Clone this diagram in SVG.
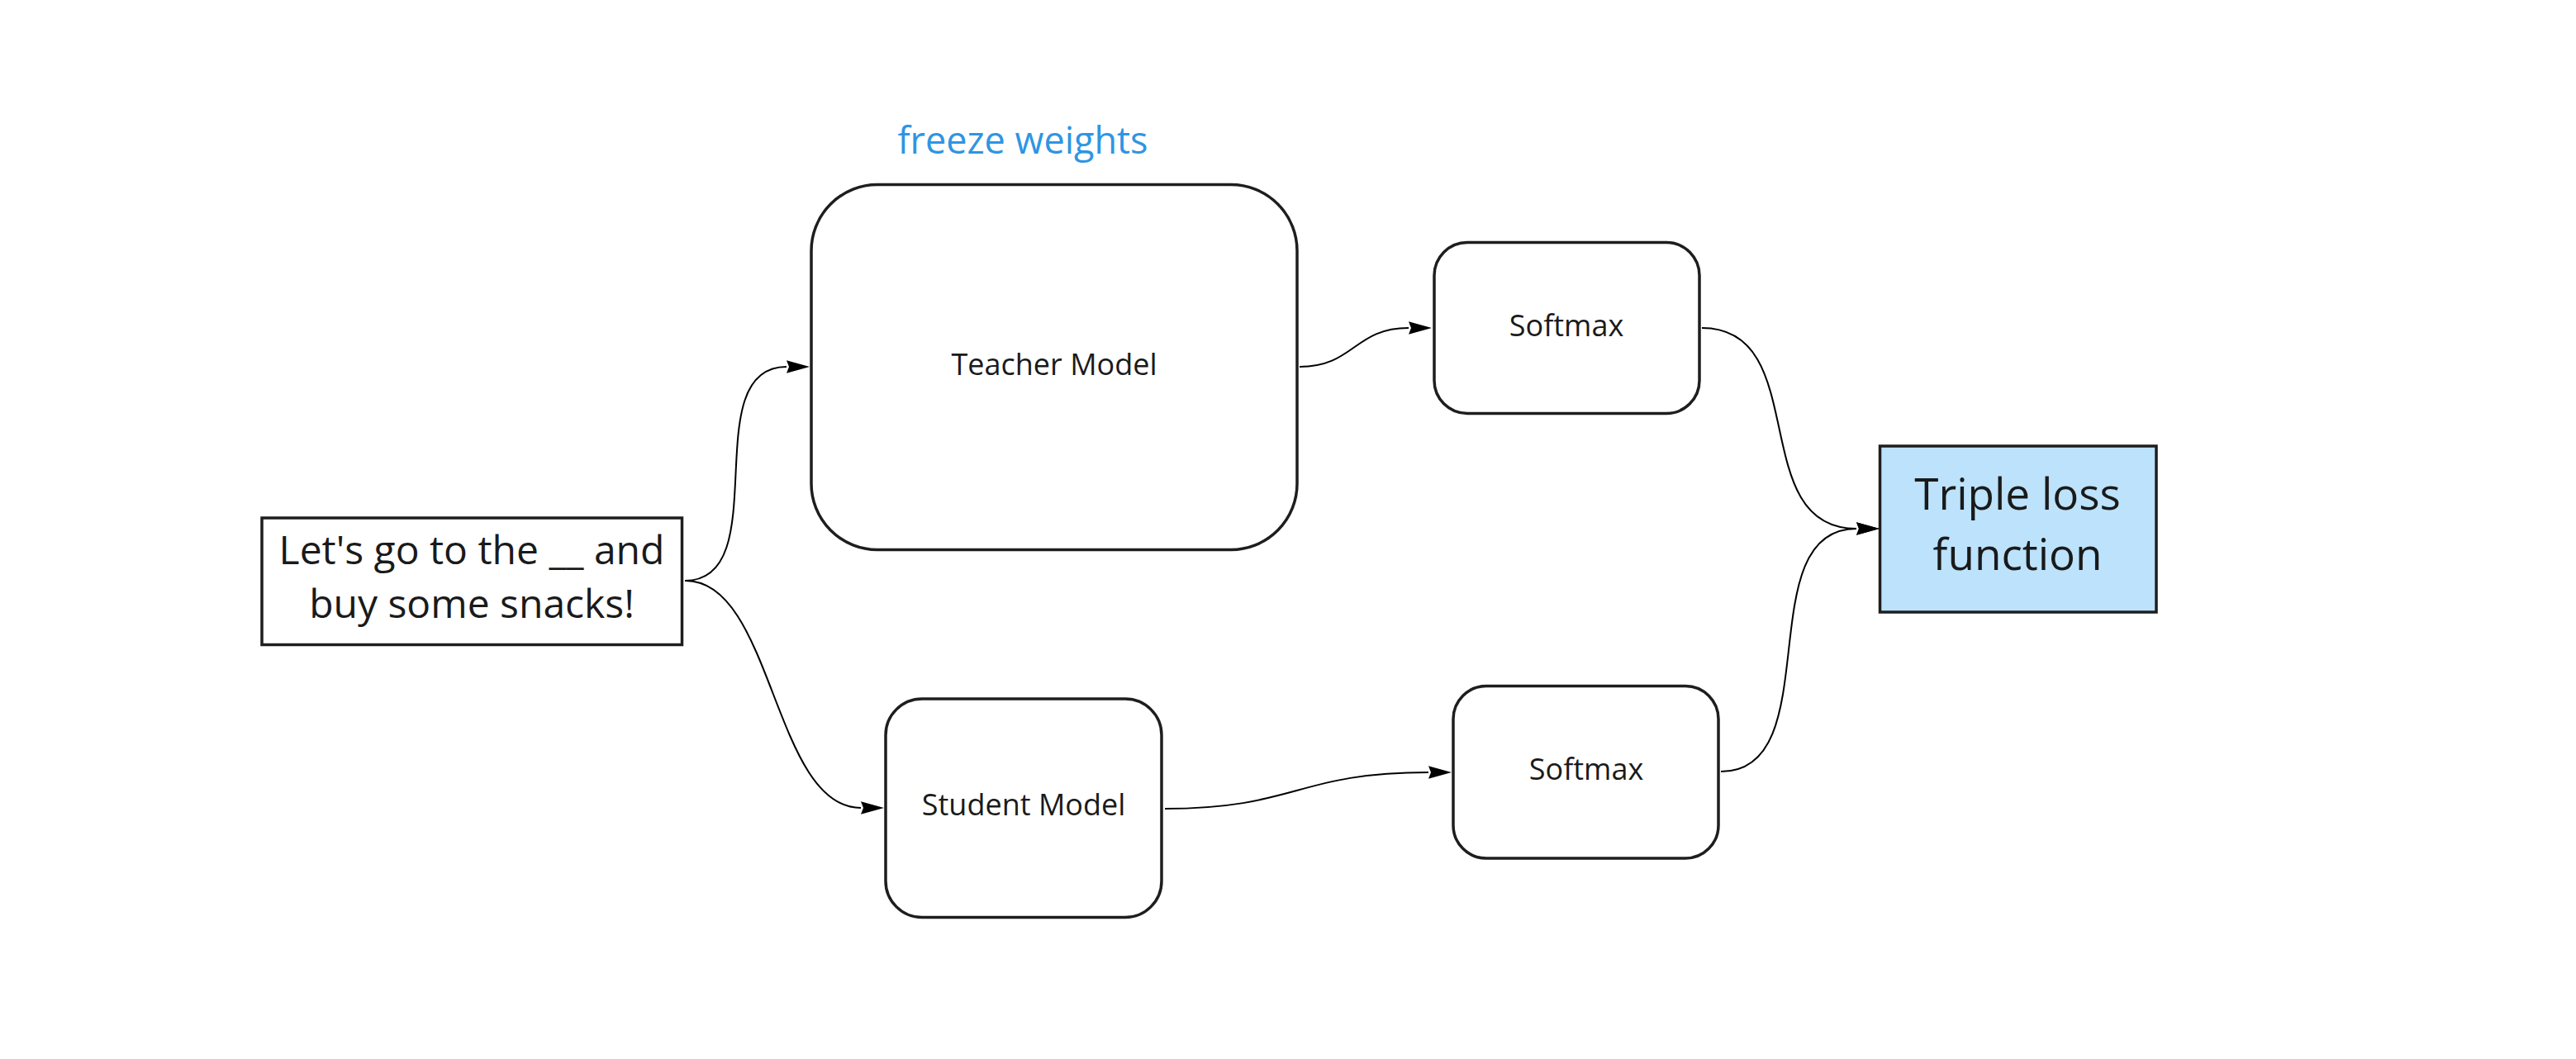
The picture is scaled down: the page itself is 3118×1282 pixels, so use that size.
<svg xmlns="http://www.w3.org/2000/svg" width="3118" height="1282" viewBox="0 0 3118 1282">
  <style>
    .box { fill: #ffffff; stroke: #1e1e1e; stroke-width: 3.5; }
    .loss { fill: #bce2fc; stroke: #1e1e1e; stroke-width: 3.5; }
    .lbl { font-family: "Open Sans", "Noto Sans", "Liberation Sans", sans-serif; fill: #1a1a1a; text-anchor: middle; }
    .conn { fill: none; stroke: #000000; stroke-width: 2; marker-end: url(#arrow); }
  </style>
  <defs>
    <marker id="arrow" markerUnits="userSpaceOnUse" markerWidth="32" markerHeight="18" refX="0" refY="8" orient="auto">
      <path d="M0,0.2 L28,8 L0,15.8 L3,8 Z" fill="#000000"/>
    </marker>
  </defs>
  <rect width="3118" height="1282" fill="#ffffff"/>

  <g id="input">
    <rect class="box" x="317" y="627" width="508.5" height="153.5"/>
    <text class="lbl" x="571" y="683" font-size="48">Let's go to the __ and</text>
    <text class="lbl" x="571" y="748" font-size="48">buy some snacks!</text>
  </g>

  <g id="freeze-label">
    <text x="1238" y="186" font-family="'Open Sans', 'Noto Sans', 'Liberation Sans', sans-serif" font-size="45" fill="#2e95e3" text-anchor="middle">freeze weights</text>
  </g>

  <g id="teacher">
    <rect class="box" x="982" y="223.5" width="588" height="442" rx="80" ry="80"/>
    <text class="lbl" x="1276" y="454" font-size="36">Teacher Model</text>
  </g>

  <g id="student">
    <rect class="box" x="1072" y="846" width="334" height="264.5" rx="44" ry="44"/>
    <text class="lbl" x="1239" y="987" font-size="36">Student Model</text>
  </g>

  <g id="softmax-top">
    <rect class="box" x="1736" y="293.5" width="321" height="207" rx="40" ry="40"/>
    <text class="lbl" x="1896" y="406.5" font-size="36">Softmax</text>
  </g>

  <g id="softmax-bottom">
    <rect class="box" x="1759" y="830.5" width="321" height="208.5" rx="40" ry="40"/>
    <text class="lbl" x="1920" y="944" font-size="36">Softmax</text>
  </g>

  <g id="loss">
    <rect class="loss" x="2275.5" y="540" width="334.5" height="201"/>
    <text class="lbl" x="2442" y="617" font-size="53">Triple loss</text>
    <text class="lbl" x="2442" y="690" font-size="53">function</text>
  </g>

  <g id="connectors">
    <path class="conn" d="M829,703 C940,703 841,444 952,444"/>
    <path class="conn" d="M830,703 C936,703 936,978 1042,978"/>
    <path class="conn" d="M1573,444 C1639,444 1639,397 1705,397"/>
    <path class="conn" d="M1410,979 C1569.5,979 1569.5,935 1729,935"/>
    <path class="conn" d="M2060,397 C2195,397 2112,640 2247,640"/>
    <path class="conn" d="M2083,934 C2214,934 2116,640 2247,640"/>
  </g>
</svg>
